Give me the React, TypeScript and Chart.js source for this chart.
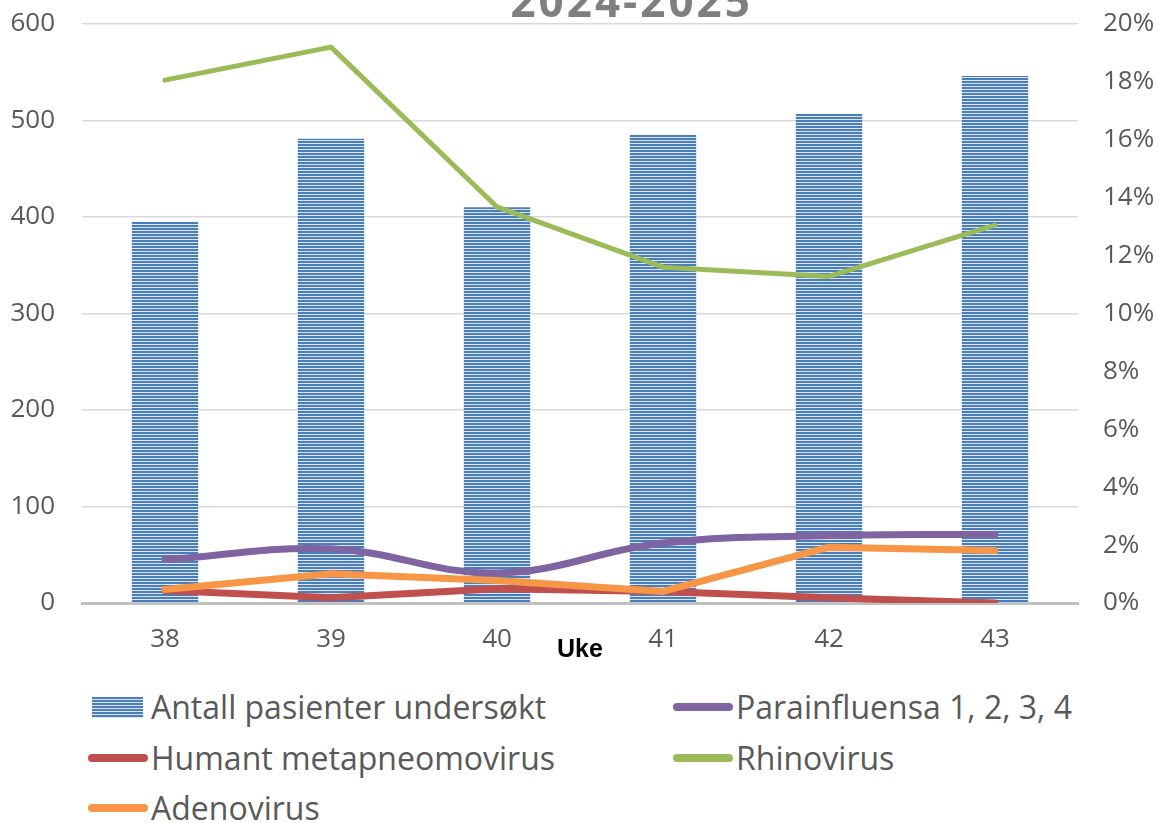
import React, { useEffect, useRef } from "react";
import { Chart, registerables } from "chart.js";

Chart.register(...registerables);

// ---- data ----
const TITLE = "2024-2025";
const X_TITLE = "Uke";
const weeks = ["38", "39", "40", "41", "42", "43"];
const seriesNames = [
  "Antall pasienter undersøkt",
  "Parainfluensa 1, 2, 3, 4",
  "Humant metapneomovirus",
  "Rhinovirus",
  "Adenovirus",
];
const patients = [395, 481, 410, 485, 507, 546];
const parainfluensa = [1.5, 1.87, 1.04, 2.07, 2.33, 2.37];
const metapneumo = [0.43, 0.18, 0.49, 0.4, 0.18, 0.0];
const rhinovirus = [18.06, 19.2, 13.68, 11.6, 11.28, 13.05];
const adenovirus = [0.47, 1.01, 0.78, 0.4, 1.93, 1.81];
const leftAxis = { min: 0, max: 600, step: 100 };
const rightAxis = { min: 0, max: 20, step: 2 };

// ---- styles ----
const BAR_DARK = "#4a7ebb";
const BAR_LIGHT = "#dce6f2";
const lineColors = ["#8064a2", "#c0504d", "#9bbb59", "#f79646"];
const lineWidths = [7, 7, 5, 7];
const lineTension = [0.4, 0, 0, 0];
const TEXT = "#595959";
const FONT = "'Open Sans', 'DejaVu Sans', sans-serif";

function makePattern(): CanvasPattern | string {
  const c = document.createElement("canvas");
  c.width = 4;
  c.height = 3;
  const g = c.getContext("2d");
  if (!g) return BAR_DARK;
  g.fillStyle = BAR_LIGHT;
  g.fillRect(0, 0, 4, 3);
  g.fillStyle = BAR_DARK;
  g.fillRect(0, 0, 4, 2);
  const p = g.createPattern(c, "repeat");
  return p || BAR_DARK;
}

const titlePlugin = {
  id: "clippedTitle",
  afterDraw(chart: any) {
    const ctx = chart.ctx as CanvasRenderingContext2D;
    ctx.save();
    ctx.font = `bold 44px ${FONT}`;
    ctx.fillStyle = "#7f7f7f";
    ctx.textAlign = "center";
    ctx.textBaseline = "alphabetic";
    (ctx as any).letterSpacing = "3px";
    ctx.fillText(TITLE, chart.width * 0.545, 17);
    ctx.restore();
  },
};

export default function App() {
  const ref = useRef<HTMLCanvasElement | null>(null);

  useEffect(() => {
    if (!ref.current) return;
    const lineData = [parainfluensa, metapneumo, rhinovirus, adenovirus];
    const chart = new Chart(ref.current, {
      type: "bar",
      data: {
        labels: weeks,
        datasets: [
          {
            type: "bar",
            label: seriesNames[0],
            data: patients,
            yAxisID: "y",
            backgroundColor: makePattern() as any,
            borderWidth: 0,
            barPercentage: 0.4,
            categoryPercentage: 1,
            order: 10,
          } as any,
          ...lineData.map((d, i) => ({
            type: "line",
            label: seriesNames[i + 1],
            data: d,
            yAxisID: "y1",
            borderColor: lineColors[i],
            backgroundColor: lineColors[i],
            borderWidth: lineWidths[i],
            pointRadius: 0,
            pointHoverRadius: 0,
            tension: lineTension[i],
            cubicInterpolationMode: "default",
            borderCapStyle: "round",
            borderJoinStyle: "round",
            fill: false,
            order: 4 - i,
          })) as any,
        ],
      },
      options: {
        animation: false,
        responsive: false,
        maintainAspectRatio: false,
        layout: { padding: { top: 24, bottom: 0, left: 0, right: 0 } },
        plugins: {
          legend: { display: false },
          tooltip: { enabled: false },
          title: { display: false },
        },
        scales: {
          x: {
            type: "category",
            offset: true,
            grid: { display: false, drawTicks: false },
            border: { display: true, color: "#bfbfbf", width: 3 },
            ticks: { font: { family: FONT, size: 26 }, color: TEXT, padding: 21 },
            title: {
              display: true,
              text: X_TITLE,
              color: "#000000",
              font: { family: "'Liberation Sans', Arial, sans-serif", size: 25, weight: "bold" },
              padding: { top: 0, bottom: 15 },
            },
            afterFit: (s: any) => {
              s.height = 77;
              s.paddingLeft = 0;
              s.paddingRight = 0;
            },
          },
          y: {
            position: "left",
            min: leftAxis.min,
            max: leftAxis.max,
            ticks: { stepSize: leftAxis.step, font: { family: FONT, size: 26 }, color: TEXT, padding: 27 },
            grid: { color: "#d9d9d9", lineWidth: 1.5, drawTicks: false },
            border: { display: false },
            afterFit: (s: any) => {
              s.width = 82;
              s.paddingTop = 0;
              s.paddingBottom = 0;
            },
          },
          y1: {
            position: "right",
            min: rightAxis.min,
            max: rightAxis.max,
            ticks: {
              stepSize: rightAxis.step,
              font: { family: FONT, size: 26 },
              color: TEXT,
              padding: 25,
              callback: (v: any) => `${v}%`,
            },
            grid: { display: false, drawTicks: false },
            border: { display: false },
            afterFit: (s: any) => {
              s.width = 81;
              s.paddingTop = 0;
              s.paddingBottom = 0;
            },
          },
        } as any,
      },
      plugins: [titlePlugin],
    });
    return () => chart.destroy();
  }, []);

  const colLeft = [88, 673];
  const rowCenter = [707, 758, 808];

  return (
    <div
      style={{
        position: "fixed",
        left: 0,
        top: 0,
        width: 1159,
        height: 823,
        overflow: "hidden",
        background: "#ffffff",
      }}
    >
      <canvas
        ref={ref}
        width={1159}
        height={680}
        style={{ position: "absolute", left: 0, top: 0, width: 1159, height: 680 }}
      />
      {seriesNames.map((name, i) => {
        const row = Math.floor(i / 2);
        const col = i % 2;
        return (
          <div
            key={name}
            style={{
              position: "absolute",
              left: colLeft[col],
              top: rowCenter[row] - 20,
              height: 40,
              display: "flex",
              alignItems: "center",
              whiteSpace: "nowrap",
              fontFamily: FONT,
              fontSize: 32,
              lineHeight: "40px",
              color: TEXT,
            }}
          >
            {i === 0 ? (
              <span
                style={{
                  display: "inline-block",
                  width: 51,
                  height: 21,
                  marginLeft: 4,
                  marginRight: 8,
                  background: `repeating-linear-gradient(to bottom, ${BAR_DARK} 0px, ${BAR_DARK} 2px, ${BAR_LIGHT} 2px, ${BAR_LIGHT} 3px)`,
                }}
              />
            ) : (
              <span
                style={{
                  display: "inline-block",
                  width: 60,
                  height: 8,
                  borderRadius: 4,
                  marginRight: 3,
                  background: lineColors[i - 1],
                }}
              />
            )}
            <span>{name}</span>
          </div>
        );
      })}
    </div>
  );
}
